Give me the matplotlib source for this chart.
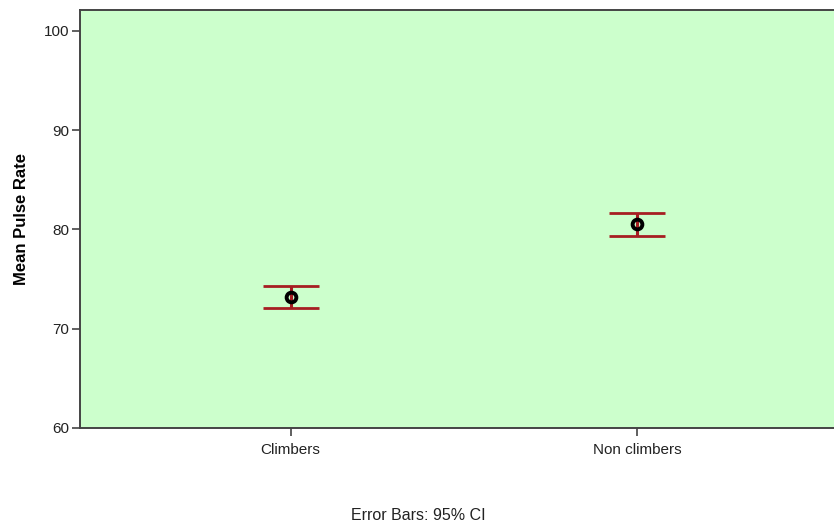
import matplotlib
matplotlib.use("Agg")
import matplotlib.pyplot as plt

groups = ["Climbers", "Non climbers"]
means = [73.2, 80.5]
ci_low = [72.1, 79.3]
ci_high = [74.3, 81.7]

FONT = ["Liberation Sans", "DejaVu Sans"]

fig = plt.figure(figsize=(8.34, 5.23), dpi=100)
# right edge of the plot area runs past the figure, as in the original
ax = fig.add_axes([80 / 834, 1 - 428 / 523, 768 / 834, 418 / 523])
ax.set_facecolor("#CCFFCC")

x = list(range(len(groups)))
yerr = [[m - lo for m, lo in zip(means, ci_low)],
        [hi - m for m, hi in zip(means, ci_high)]]
ax.errorbar(x, means, yerr=yerr, fmt="none", ecolor="#A61E22",
            elinewidth=2.2, capsize=20, capthick=2, zorder=2)
ax.plot(x, means, "o", mfc="none", mec="black", ms=7, mew=2.8, zorder=3)

ax.set_xlim(-0.607, 1.607)
ax.set_ylim(60, 102.1)
ax.set_yticks([60, 70, 80, 90, 100])
ax.set_xticks(x)
ax.set_xticklabels(groups)

for s in ["left", "bottom", "top"]:
    ax.spines[s].set_color("#444444")
    ax.spines[s].set_linewidth(1.4)
ax.spines["right"].set_visible(False)
ax.tick_params(axis="both", length=6, width=1.2, color="#444444",
               labelsize=11, labelcolor="#222222")
ax.tick_params(axis="x", pad=5)
ax.tick_params(axis="y", pad=2)
for lab in ax.get_xticklabels() + ax.get_yticklabels():
    lab.set_family(FONT)

ax.set_ylabel("Mean Pulse Rate", fontsize=12, fontweight="bold",
              family=FONT, labelpad=10)

fig.text(418 / 834, 1 - 516 / 523, "Error Bars: 95% CI", ha="center", va="center",
         fontsize=11.5, color="#222222", family=FONT)

fig.savefig("out.png", dpi=100)
